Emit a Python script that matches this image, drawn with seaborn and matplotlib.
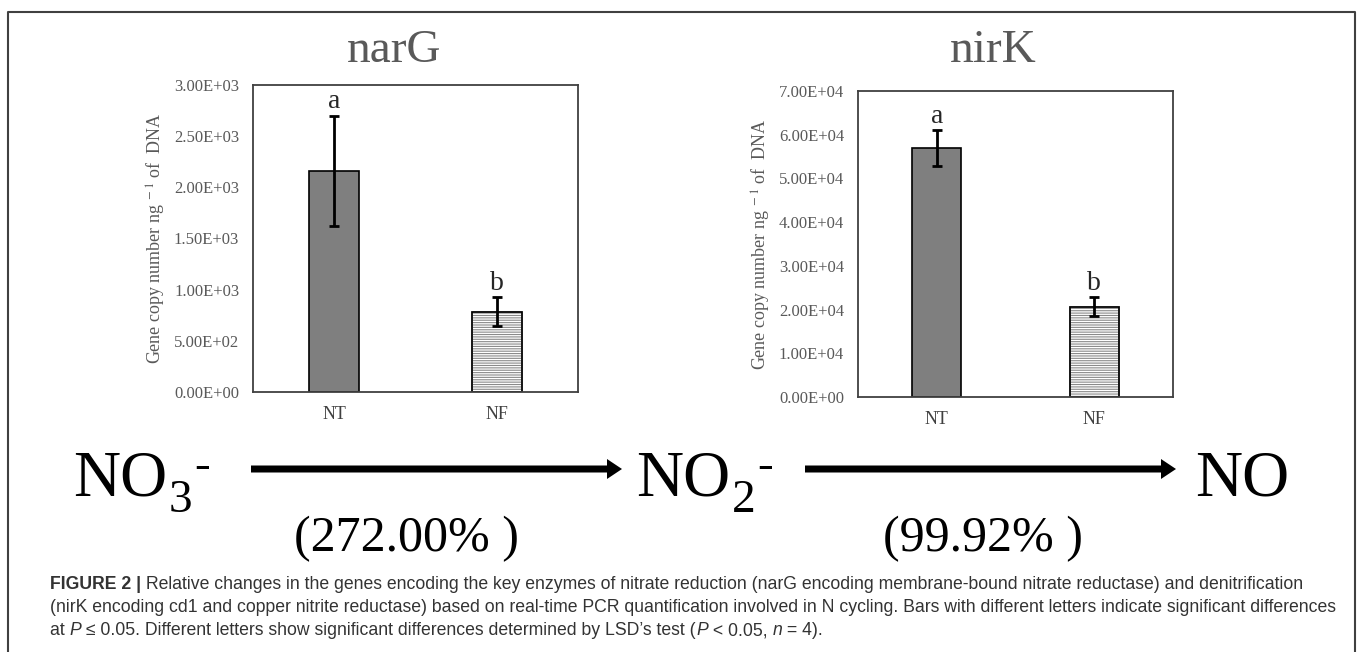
import numpy as np
import pandas as pd
import matplotlib.pyplot as plt
import seaborn as sns
from matplotlib.ticker import FuncFormatter
from matplotlib.patches import Rectangle, FancyArrow

# data
treatments = ['NT', 'NF']
narG_mean = [2160, 785]
narG_err = [540, 142]
nirK_mean = [57000, 20700]
nirK_err = [4100, 2100]
narG_ticks = [0, 500, 1000, 1500, 2000, 2500, 3000]
nirK_ticks = [0, 10000, 20000, 30000, 40000, 50000, 60000, 70000]
letters = ['a', 'b']
changes = ['(272.00% )', '(99.92% )']

caption = [
    [("FIGURE 2 |", "bold"), (" Relative changes in the genes encoding the key enzymes of nitrate reduction (narG encoding membrane-bound nitrate reductase) and denitrification", "normal")],
    [("(nirK encoding cd1 and copper nitrite reductase) based on real-time PCR quantification involved in N cycling. Bars with different letters indicate significant differences", "normal")],
    [("at ", "normal"), ("P", "italic"), (" \u2264 0.05. Different letters show significant differences determined by LSD\u2019s test (", "normal"),
     ("P", "italic"), (" < 0.05, ", "normal"), ("n", "italic"), (" = 4).", "normal")],
]

sns.set_theme(style='white')
plt.rcParams['font.family'] = ['Liberation Serif', 'DejaVu Serif']
plt.rcParams['mathtext.fontset'] = 'stix'
plt.rcParams['hatch.linewidth'] = 0.8

W, H = 1357, 652
fig = plt.figure(figsize=(W / 100, H / 100), dpi=100)
fig.patch.set_facecolor('white')

# background axes in pixel units for the scheme and caption
bg = fig.add_axes([0, 0, 1, 1], zorder=-1)
bg.set_xlim(0, W)
bg.set_ylim(H, 0)
bg.axis('off')

GREY = '#595959'


def panel(rect, means, errs, ticks):
    ax = fig.add_axes(rect)
    df = pd.DataFrame({'trt': treatments, 'val': means})
    sns.barplot(data=df, x='trt', y='val', hue='trt', palette=['#7f7f7f', 'white'],
                legend=False, width=0.31, saturation=1, edgecolor='black',
                linewidth=1.2, errorbar=None, ax=ax)
    nf = ax.patches[1]
    nf.set_hatch('-------')
    nf.set_edgecolor('#8a8a8a')
    ax.add_patch(Rectangle(nf.get_xy(), nf.get_width(), nf.get_height(),
                           fill=False, ec='black', lw=1.2, zorder=nf.get_zorder() + 0.1))
    x = np.arange(len(treatments))
    ax.errorbar(x, means, yerr=errs, fmt='none', ecolor='black',
                elinewidth=2, capsize=3.5, capthick=2, zorder=5)
    for i in x:
        ax.annotate(letters[i], (i, means[i] + errs[i]), xytext=(0, 1),
                    textcoords='offset points', ha='center', va='bottom',
                    fontsize=20, color='#262626')
    ax.set_xlim(-0.5, 1.5)
    ax.set_ylim(0, ticks[-1])
    ax.set_yticks(ticks)
    ax.yaxis.set_major_formatter(FuncFormatter(lambda v, p: f'{v:.2E}'))
    ax.tick_params(axis='y', length=0, labelsize=12, labelcolor=GREY, pad=10)
    ax.tick_params(axis='x', length=0, labelsize=13, labelcolor='#404040', pad=10)
    ax.set_xlabel('')
    ax.set_ylabel('Gene copy number ng$^{\\ -1}$ of  DNA', fontsize=13, color=GREY, labelpad=4)
    for s in ax.spines.values():
        s.set_visible(True)
        s.set_color('#404040')
        s.set_linewidth(1.3)
    return ax


panel([253 / W, 1 - 392 / H, 325 / W, 307 / H], narG_mean, narG_err, narG_ticks)
panel([858 / W, 1 - 397 / H, 315 / W, 306 / H], nirK_mean, nirK_err, nirK_ticks)

# panel titles
bg.text(394, 62, 'narG', ha='center', va='baseline', fontsize=34, color=GREY)
bg.text(993, 62, 'nirK', ha='center', va='baseline', fontsize=34, color=GREY)

# outer frame (open at the bottom)
bg.plot([8, 8, 1355, 1355], [H, 12, 12, H], color='#404040', lw=1.5, clip_on=False)


def species(x, sub):
    bg.text(x, 496, 'NO', fontsize=47, va='baseline', ha='left', color='black')
    if sub:
        bg.text(x + 96, 512, sub, fontsize=34, va='baseline', ha='left', color='black')
        bg.text(x + 121, 478, '-', fontsize=34, va='baseline', ha='left', color='black')


species(73, '3')
species(636, '2')
species(1195, '')

for x0, x1 in [(251, 622), (805, 1176)]:
    bg.add_patch(FancyArrow(x0, 469, x1 - x0, 0, width=7, head_width=20, head_length=15,
                            length_includes_head=True, color='black', lw=0))

bg.text(407, 551, changes[0], fontsize=36, ha='center', va='baseline', color='black')
bg.text(983, 551, changes[1], fontsize=36, ha='center', va='baseline', color='black')

# caption
renderer = fig.canvas.get_renderer()
cap_font = ['Liberation Sans', 'DejaVu Sans']


def width_of(s, style):
    kw = dict(fontsize=12.7, family=cap_font)
    if style == 'bold':
        kw['fontweight'] = 'bold'
    if style == 'italic':
        kw['fontstyle'] = 'italic'
    t1 = bg.text(0, 0, 'X' + s + 'X', **kw)
    t2 = bg.text(0, 0, 'XX', **kw)
    w = t1.get_window_extent(renderer).width - t2.get_window_extent(renderer).width
    t1.remove()
    t2.remove()
    return w, kw


for row, runs in enumerate(caption):
    x = 50
    y = 589 + row * 23
    for s, style in runs:
        w, kw = width_of(s, style)
        bg.text(x, y, s, va='baseline', ha='left', color='#333333', **kw)
        x += w

fig.savefig('out.png', dpi=100, facecolor='white')
